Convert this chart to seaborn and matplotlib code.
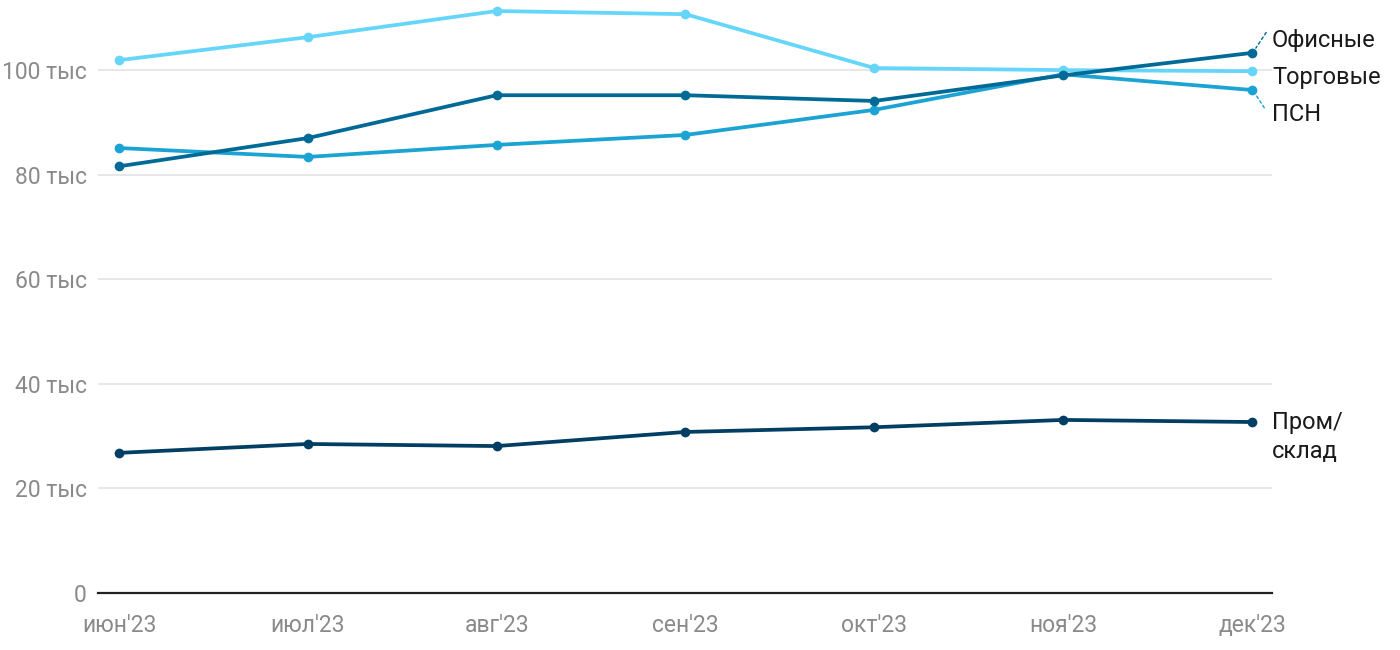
import matplotlib
matplotlib.use("Agg")
import matplotlib.pyplot as plt
import seaborn as sns
import pandas as pd

sns.set_theme(style="white")
plt.rcParams["font.family"] = ["Roboto", "DejaVu Sans"]

# Data (тыс. руб.)
months = ["июн'23", "июл'23", "авг'23", "сен'23", "окт'23", "ноя'23", "дек'23"]
trade = [101.9, 106.3, 111.3, 110.7, 100.4, 100.0, 99.8]
office = [81.6, 87.0, 95.2, 95.2, 94.1, 99.0, 103.3]
psn = [85.1, 83.4, 85.7, 87.6, 92.4, 99.2, 96.2]
warehouse = [26.8, 28.5, 28.1, 30.8, 31.7, 33.1, 32.7]

series = {"Пром/склад": warehouse, "ПСН": psn, "Торговые": trade, "Офисные": office}
colors = {"Пром/склад": "#003f63", "ПСН": "#1ba3d3", "Торговые": "#66d5fa", "Офисные": "#006a96"}

df = pd.concat(
    [pd.DataFrame({"month": range(len(months)), "value": v, "type": k})
     for k, v in series.items()],
    ignore_index=True,
)

fig = plt.figure(figsize=(14, 6.5), dpi=100)
ax = fig.add_axes([0.07, 0.0877, 0.8386, 0.909])

ax.yaxis.grid(True, color="#e3e3e3", linewidth=1.2)
ax.set_axisbelow(True)
sns.lineplot(data=df, x="month", y="value", hue="type", palette=colors,
             linewidth=2.7, marker="o", markersize=7, markeredgewidth=0,
             legend=False, ax=ax)

ax.set_xlim(-0.111, 6.106)
ax.set_ylim(0, 113)
ax.set_xticks(range(len(months)))
ax.set_xticklabels(months)
ax.set_yticks([0, 20, 40, 60, 80, 100])
ax.set_yticklabels(["0"] + [f"{v} тыс" for v in [20, 40, 60, 80, 100]])
ax.tick_params(axis="both", length=0, labelsize=16.5, labelcolor="#8a8a8a")
ax.tick_params(axis="x", pad=15)
ax.tick_params(axis="y", pad=8)
ax.set_xlabel("")
ax.set_ylabel("")
sns.despine(ax=ax, left=True)
ax.spines["bottom"].set_color("#222222")
ax.spines["bottom"].set_linewidth(1.6)

# Right-side labels
last = len(months) - 1
lx = 6.106
fs = 17
dash = dict(arrowstyle="-", linestyle=(0, (2, 2)), lw=1.0, shrinkA=0, shrinkB=0)
ax.annotate("", xy=(last + 0.02, office[-1] + 0.9), xytext=(last + 0.075, 107.2),
            arrowprops=dict(dash, color=colors["Офисные"]), annotation_clip=False)
ax.annotate("", xy=(last + 0.02, psn[-1] - 0.9), xytext=(last + 0.065, 92.8),
            arrowprops=dict(dash, color=colors["ПСН"]), annotation_clip=False)
ax.text(lx, 105.6, "Офисные", fontsize=fs, color="#1a1a1a", va="center", ha="left")
ax.text(lx, trade[-1] - 1.2, "Торговые", fontsize=fs, color="#1a1a1a", va="center", ha="left")
ax.text(lx, 91.6, "ПСН", fontsize=fs, color="#1a1a1a", va="center", ha="left")
ax.text(lx, warehouse[-1] - 2.8, "Пром/\nсклад", fontsize=fs, color="#1a1a1a",
        va="center", ha="left", linespacing=1.35)

fig.savefig("out.png", dpi=100)
